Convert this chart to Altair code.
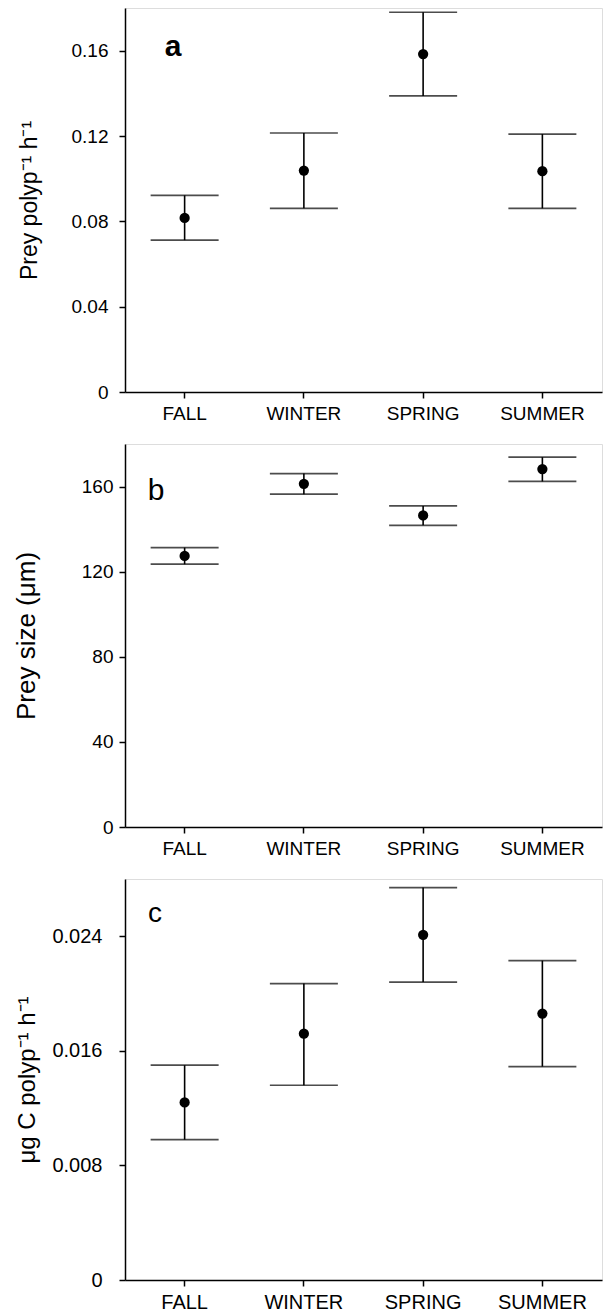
import altair as alt
import pandas as pd

seasons = ["FALL", "WINTER", "SPRING", "SUMMER"]

a_mean = [0.0816, 0.1038, 0.1584, 0.1035]
a_upper = [0.0922, 0.1214, 0.1780, 0.1209]
a_lower = [0.0712, 0.0861, 0.1388, 0.0861]
a_ticks = [0, 0.04, 0.08, 0.12, 0.16]

b_mean = [127.4, 161.3, 146.4, 168.2]
b_upper = [131.3, 166.1, 150.9, 173.8]
b_lower = [123.5, 156.4, 141.8, 162.4]
b_ticks = [0, 40, 80, 120, 160]

c_mean = [0.0124, 0.0172, 0.0241, 0.0186]
c_upper = [0.0150, 0.0207, 0.0274, 0.0223]
c_lower = [0.0098, 0.0136, 0.0208, 0.0149]
c_ticks = [0, 0.008, 0.016, 0.024]

FONT = "Liberation Sans, Arial, Helvetica, sans-serif"
W = 477


def panel(mean, lower, upper, ymax, ticks, decimals, title, letter, lx, ly,
          lweight, lsize, height, fsize, ylabpad, title_x, title_size):
    df = pd.DataFrame({"season": seasons, "mean": mean,
                       "lower": lower, "upper": upper})
    xaxis = alt.Axis(title=None, labelAngle=0, labelFontSize=fsize,
                     labelPadding=6, tickSize=6, tickWidth=1.5,
                     tickColor="black", domainColor="black", domainWidth=1.5,
                     labelColor="black", labelFont=FONT)
    if decimals == 0:
        lab = "format(datum.value, 'd')"
    else:
        lab = "datum.value == 0 ? '0' : format(datum.value, '.%df')" % decimals
    yaxis = alt.Axis(title=title, values=ticks, labelExpr=lab,
                     labelFontSize=fsize, labelPadding=ylabpad, tickSize=6,
                     tickWidth=1.5, tickColor="black", domainColor="black",
                     domainWidth=1.5, grid=False, labelColor="black",
                     labelFont=FONT, titleFont=FONT, titleFontSize=title_size,
                     titleFontWeight="normal", titleColor="black",
                     titleX=title_x, titleY=height / 2)
    ysc = alt.Scale(domain=[0, ymax], nice=False, zero=True)
    base = alt.Chart(df).encode(
        x=alt.X("season:N", sort=seasons, axis=xaxis))
    rule = base.mark_rule(color="black", strokeWidth=1.6).encode(
        y=alt.Y("lower:Q", scale=ysc, axis=yaxis), y2="upper:Q")
    cap_hi = base.mark_tick(color="black", size=68, thickness=1.7).encode(
        y=alt.Y("upper:Q", scale=ysc, axis=yaxis))
    cap_lo = base.mark_tick(color="black", size=68, thickness=1.7).encode(
        y=alt.Y("lower:Q", scale=ysc, axis=yaxis))
    pts = base.mark_point(filled=True, size=105, color="black",
                          opacity=1).encode(
        y=alt.Y("mean:Q", scale=ysc, axis=yaxis))
    txt = alt.Chart(pd.DataFrame({"t": [letter]})).mark_text(
        font=FONT, fontSize=lsize, fontWeight=lweight, color="black",
        align="center", baseline="alphabetic").encode(
        text="t:N", x=alt.value(lx), y=alt.value(ly))
    return alt.layer(rule, cap_hi, cap_lo, pts, txt).properties(
        width=W, height=height)


pa = panel(a_mean, a_lower, a_upper, 0.18, a_ticks, 2,
           "Prey polyp\u207b\u00b9 h\u207b\u00b9", "a", 48, 48, "bold", 30,
           384, 19, 11, -84, 23)
pb = panel(b_mean, b_lower, b_upper, 180, b_ticks, 0,
           "Prey size (\u03bcm)", "b", 31, 56, "normal", 30,
           383, 19, 6, -86, 26)
pc = panel(c_mean, c_lower, c_upper, 0.028, c_ticks, 3,
           "\u03bcg C polyp\u207b\u00b9 h\u207b\u00b9", "c", 30, 43, "normal", 28,
           401, 20, 17, -86, 24)

chart = alt.vconcat(pa, pb, pc, spacing=19).properties(
    padding={"left": 12, "top": 7, "right": 2, "bottom": 0}
).configure_view(stroke="black", strokeWidth=1.5).configure(
    font=FONT, background="white")

chart.save("out.html", embed_options={"renderer": "svg", "actions": False})
